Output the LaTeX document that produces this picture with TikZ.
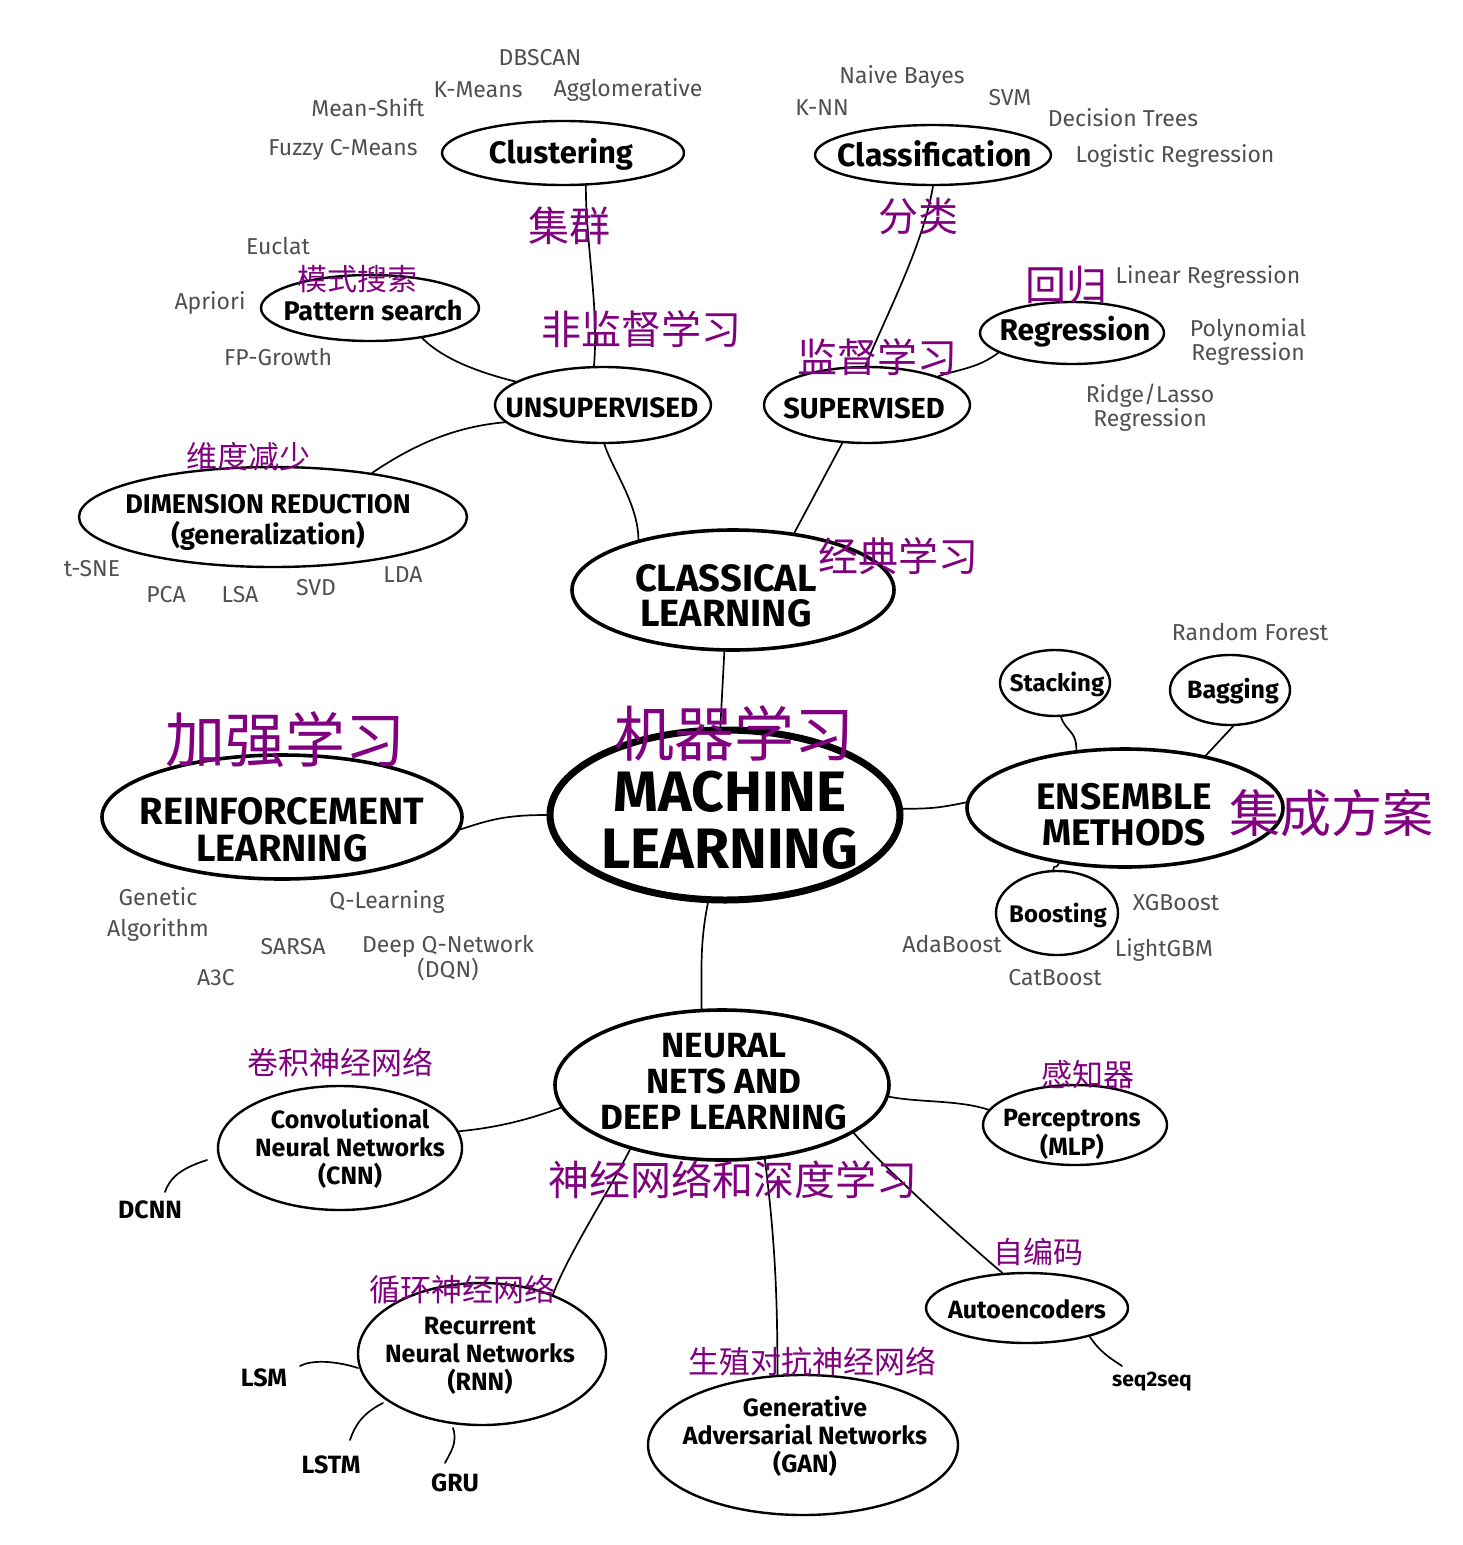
\documentclass[tikz,border=0pt]{standalone}
\usepackage{fontspec}
\setmainfont{Fira Sans}
\newfontfamily\cjk{Noto Sans CJK SC}
\usetikzlibrary{shapes.geometric}
\definecolor{cnpurple}{RGB}{128,0,128}
\definecolor{leafgray}{RGB}{80,80,80}
\begin{document}
\begin{tikzpicture}[x=1pt,y=-1pt,
  bub/.style={draw, ellipse, line width=2.4pt, inner sep=0pt},
  bigbub/.style={bub, line width=3.6pt},
  con/.style={line width=1.7pt, line cap=round},
  ttl/.style={align=center, inner sep=0pt},
  leaf/.style={text=leafgray, font=\fontsize{23}{24}\selectfont, align=center, inner sep=0pt},
  bleaf/.style={text=black, font=\fontsize{25}{27}\selectfont\bfseries, inner sep=0pt},
  zh/.style={text=cnpurple, inner sep=0pt}
]
\fill[white] (0,0) rectangle (1463,1545);
\useasboundingbox (0,0) rectangle (1463,1545);

% ---------- bubbles ----------
\node[bub, line width=7pt, minimum width=350, minimum height=170] (ml) at (725,815) {};
\node[bigbub, minimum width=322, minimum height=120] (cl) at (733,590) {};
\node[bub, minimum width=216, minimum height=76] (uns) at (603,405) {};
\node[bub, minimum width=206, minimum height=76] (sup) at (867,405) {};
\node[bub, minimum width=242, minimum height=64] (clu) at (563,153) {};
\node[bub, minimum width=236, minimum height=60] (cla) at (933,155) {};
\node[bub, minimum width=218, minimum height=66] (pat) at (370,308) {};
\node[bub, minimum width=184, minimum height=62] (reg) at (1072,333) {};
\node[bub, minimum width=388, minimum height=100] (dim) at (273,517) {};
\node[bigbub, minimum width=360, minimum height=124] (rl) at (282,817) {};
\node[bigbub, minimum width=316, minimum height=118] (ens) at (1125,808) {};
\node[bub, minimum width=110, minimum height=66] (stk) at (1055,683) {};
\node[bub, minimum width=120, minimum height=70] (bag) at (1230,690) {};
\node[bub, minimum width=122, minimum height=84] (boo) at (1057,913) {};
\node[bigbub, minimum width=334, minimum height=150] (nn) at (722,1085) {};
\node[bub, minimum width=244, minimum height=124] (cnn) at (340,1148) {};
\node[bub, minimum width=184, minimum height=80] (per) at (1075,1125) {};
\node[bub, minimum width=202, minimum height=70] (aut) at (1027,1308) {};
\node[bub, minimum width=248, minimum height=142] (rnn) at (482,1354) {};
\node[bub, minimum width=310, minimum height=140] (gan) at (803,1445) {};

% ---------- bubble texts ----------
\node[ttl, font=\fontsize{57}{57}\selectfont\bfseries] (ml-t) at (730,820) {MACHINE\\LEARNING};
\node[ttl, font=\fontsize{38}{35}\selectfont\bfseries] (cl-t) at (726,596) {CLASSICAL\\LEARNING};
\node[ttl, font=\fontsize{28}{30}\selectfont\bfseries] (uns-t) at (602,408) {UNSUPERVISED};
\node[ttl, font=\fontsize{29}{30}\selectfont\bfseries] (sup-t) at (864,408) {SUPERVISED};
\node[ttl, font=\fontsize{31}{30}\selectfont\bfseries] (clu-t) at (561,154) {Clustering};
\node[ttl, font=\fontsize{32}{30}\selectfont\bfseries] (cla-t) at (935,154) {Classification};
\node[ttl, font=\fontsize{27}{30}\selectfont\bfseries] (pat-t) at (373,310) {Pattern search};
\node[ttl, font=\fontsize{30}{30}\selectfont\bfseries] (reg-t) at (1075,332) {Regression};
\node[ttl, font=\fontsize{27}{31}\selectfont\bfseries] (dim-t) at (268,522) {DIMENSION REDUCTION\\(generalization)};
\node[ttl, font=\fontsize{38}{37}\selectfont\bfseries] (rl-t) at (282,830) {REINFORCEMENT\\LEARNING};
\node[ttl, font=\fontsize{37}{36}\selectfont\bfseries] (ens-t) at (1124,815) {ENSEMBLE\\METHODS};
\node[ttl, font=\fontsize{24}{30}\selectfont\bfseries] (stk-t) at (1057,684) {Stacking};
\node[ttl, font=\fontsize{25}{30}\selectfont\bfseries] (bag-t) at (1233,691) {Bagging};
\node[ttl, font=\fontsize{24}{30}\selectfont\bfseries] (boo-t) at (1058,915) {Boosting};
\node[ttl, font=\fontsize{35}{36}\selectfont\bfseries] (nn-t) at (724,1082) {NEURAL\\NETS AND\\DEEP LEARNING};
\node[ttl, font=\fontsize{25}{28}\selectfont\bfseries] (cnn-t) at (350,1148) {Convolutional\\Neural Networks\\(CNN)};
\node[ttl, font=\fontsize{25}{29}\selectfont\bfseries] (per-t) at (1072,1134) {Perceptrons\\(MLP)};
\node[ttl, font=\fontsize{25}{29}\selectfont\bfseries] (aut-t) at (1027,1309) {Autoencoders};
\node[ttl, font=\fontsize{25}{28}\selectfont\bfseries] (rnn-t) at (480,1356) {Recurrent\\Neural Networks\\(RNN)};
\node[ttl, font=\fontsize{25}{28}\selectfont\bfseries] (gan-t) at (805,1436) {Generative\\Adversarial Networks\\(GAN)};

% ---------- connectors ----------
\draw[con] (ml.93) -- (cl.262);
\draw[con] (cl.152) .. controls +(0,-35) and +(8,25) .. (uns.272);
\draw[con] (cl.43) -- (sup.237);
\draw[con] (uns.103) .. controls +(5,-60) and +(0,60) .. (clu.305);
\draw[con] (uns.165) .. controls +(-40,-10) and +(20,20) .. (pat.330);
\draw[con] (uns.190) .. controls +(-60,5) and +(30,-20) .. (dim.24);
\draw[con] (sup.92) .. controls +(20,-50) and +(-10,60) .. (cla.270);
\draw[con] (sup.22) .. controls +(25,-8) and +(-20,15) .. (reg.195);
\draw[con] (ml.180) .. controls +(-40,0) and +(30,-10) .. (rl.356);
\draw[con] (ml.2) .. controls +(30,0) and +(-25,5) .. (ens.178);
\draw[con] (ens.130) .. controls +(0,-20) and +(5,15) .. (stk.280);
\draw[con] (ens.33) -- (bag.275);
\draw[con] (ens.220) .. controls +(-5,8) and +(2,-8) .. (boo.95);
\draw[con] (ml.259) .. controls +(-8,40) and +(0,-40) .. (nn.105);
\draw[con] (nn.188) .. controls +(-40,15) and +(30,-3) .. (cnn.8);
\draw[con] (nn.356) .. controls +(30,6) and +(-30,-10) .. (per.170);
\draw[con] (nn.215) .. controls +(-20,40) and +(15,-40) .. (rnn.40);
\draw[con] (nn.300) .. controls +(10,80) and +(0,-80) .. (gan.110);
\draw[con] (nn.340) .. controls +(30,35) and +(-30,-25) .. (aut.125);

% free strokes
\coordinate (dcA) at (207,1160); \coordinate (dcB) at (165,1192);
\draw[con] (dcA) .. controls +(-25,8) and +(5,-15) .. (dcB);
\coordinate (lsmA) at (300,1366); \coordinate (lsmB) at (358,1368);
\draw[con] (lsmA) .. controls +(15,-8) and +(-15,-5) .. (lsmB);
\coordinate (lstmA) at (383,1403); \coordinate (lstmB) at (350,1440);
\draw[con] (lstmA) .. controls +(-20,10) and +(5,-15) .. (lstmB);
\coordinate (gruA) at (453,1428); \coordinate (gruB) at (445,1463);
\draw[con] (gruA) .. controls +(5,15) and +(5,-10) .. (gruB);
\coordinate (s2sA) at (1090,1337); \coordinate (s2sB) at (1122,1366);
\draw[con] (s2sA) .. controls +(10,15) and +(-12,-8) .. (s2sB);

% ---------- leaves ----------
\node[leaf] (dbscan) at (540,58) {DBSCAN};
\node[leaf] (kmeans) at (478,90) {K-Means};
\node[leaf] (aggl) at (628,90) {Agglomerative};
\node[leaf] (meanshift) at (368,108) {Mean-Shift};
\node[leaf] (fuzzy) at (343,150) {Fuzzy C-Means};
\node[leaf] (naive) at (902,77) {Naive Bayes};
\node[leaf] (knn) at (822,108) {K-NN};
\node[leaf] (svm) at (1010,98) {SVM};
\node[leaf] (dtree) at (1123,118) {Decision Trees};
\node[leaf] (logreg) at (1175,156) {Logistic Regression};
\node[leaf] (euclat) at (278,246) {Euclat};
\node[leaf] (apriori) at (210,303) {Apriori};
\node[leaf] (fpg) at (278,357) {FP-Growth};
\node[leaf] (linreg) at (1208,277) {Linear Regression};
\node[leaf] (polyreg) at (1248,342) {Polynomial\\Regression};
\node[leaf] (ridge) at (1150,408) {Ridge/Lasso\\Regression};
\node[leaf] (tsne) at (92,569) {t-SNE};
\node[leaf] (pca) at (166,595) {PCA};
\node[leaf] (lsa) at (240,595) {LSA};
\node[leaf] (svd) at (316,588) {SVD};
\node[leaf] (lda) at (403,575) {LDA};
\node[leaf] (rf) at (1250,632) {Random Forest};
\node[leaf, font=\fontsize{23}{31}\selectfont] (genetic) at (158,914) {Genetic\\Algorithm};
\node[leaf] (qlearn) at (387,902) {Q-Learning};
\node[leaf] (sarsa) at (293,947) {SARSA};
\node[leaf] (dqn) at (448,958) {Deep Q-Network\\(DQN)};
\node[leaf] (a3c) at (216,978) {A3C};
\node[leaf] (xgb) at (1176,903) {XGBoost};
\node[leaf] (ada) at (952,944) {AdaBoost};
\node[leaf] (lgbm) at (1164,950) {LightGBM};
\node[leaf] (cat) at (1055,978) {CatBoost};
\node[bleaf] (dcnn) at (150,1210) {DCNN};
\node[bleaf] (lsm) at (264,1378) {LSM};
\node[bleaf] (lstm) at (331,1465) {LSTM};
\node[bleaf] (gru) at (455,1483) {GRU};
\node[bleaf, font=\fontsize{21}{23}\selectfont\bfseries] (s2s) at (1152,1382) {seq2seq};

% ---------- chinese labels ----------
\node[zh, font=\cjk\fontsize{41}{44}\selectfont] (zh-clu) at (569,226) {集群};
\node[zh, font=\cjk\fontsize{40}{44}\selectfont] (zh-cla) at (918,216) {分类};
\node[zh, font=\cjk\fontsize{30}{34}\selectfont] (zh-pat) at (357,279) {模式搜索};
\node[zh, font=\cjk\fontsize{41}{44}\selectfont] (zh-reg) at (1066,285) {回归};
\node[zh, font=\cjk\fontsize{40}{44}\selectfont] (zh-uns) at (641,329) {非监督学习};
\node[zh, font=\cjk\fontsize{40}{44}\selectfont] (zh-sup) at (877,357) {监督学习};
\node[zh, font=\cjk\fontsize{31}{34}\selectfont] (zh-dim) at (248,457) {维度减少};
\node[zh, font=\cjk\fontsize{40}{44}\selectfont] (zh-cl) at (898,556) {经典学习};
\node[zh, font=\cjk\fontsize{60}{64}\selectfont] (zh-rl) at (285,740) {加强学习};
\node[zh, font=\cjk\fontsize{60}{64}\selectfont] (zh-ml) at (734,733) {机器学习};
\node[zh, font=\cjk\fontsize{51}{55}\selectfont] (zh-ens) at (1331,813) {集成方案};
\node[zh, font=\cjk\fontsize{31}{34}\selectfont] (zh-cnn) at (340,1063) {卷积神经网络};
\node[zh, font=\cjk\fontsize{31}{34}\selectfont] (zh-per) at (1088,1075) {感知器};
\node[zh, font=\cjk\fontsize{41}{44}\selectfont] (zh-nn) at (733,1180) {神经网络和深度学习};
\node[zh, font=\cjk\fontsize{30}{34}\selectfont] (zh-aut) at (1038,1252) {自编码};
\node[zh, font=\cjk\fontsize{31}{34}\selectfont] (zh-rnn) at (462,1290) {循环神经网络};
\node[zh, font=\cjk\fontsize{31}{34}\selectfont] (zh-gan) at (812,1362) {生殖对抗神经网络};
\end{tikzpicture}
\end{document}
